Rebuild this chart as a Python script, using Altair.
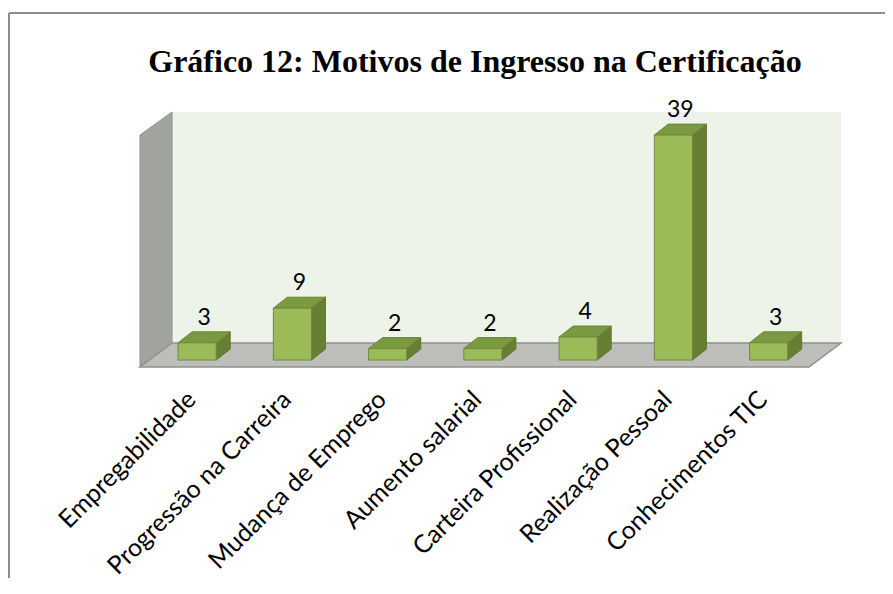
import altair as alt
import pandas as pd

# ---- data ----
categories = ["Empregabilidade", "Progressão na Carreira", "Mudança de Emprego",
              "Aumento salarial", "Carteira Profissional", "Realização Pessoal",
              "Conhecimentos TIC"]
values = [3, 9, 2, 2, 4, 39, 3]
title_text = "Gráfico 12: Motivos de Ingresso na Certificação"

# ---- 3D geometry (in data units) ----
X_MIN, X_MAX = -0.6, 6.76
Y_MIN, Y_MAX = -1.2, 43.0
HALF_W = 0.2          # half bar width (category units)
BDX, BDY = 0.147, 1.9  # bar depth offsets
FDX, FDY = 0.336, 4.16  # floor depth offsets

FONT = "Lato"

xs = alt.Scale(domain=[X_MIN, X_MAX], nice=False, zero=False)
ys = alt.Scale(domain=[Y_MIN, Y_MAX], nice=False, zero=False)

floor_back = Y_MIN + FDY

# back wall
wall_df = pd.DataFrame({"x": [X_MIN + FDX], "x2": [X_MAX], "y": [floor_back], "y2": [Y_MAX]})
back_wall = alt.Chart(wall_df).mark_rect(color="#EEF3E9").encode(
    x=alt.X("x:Q", scale=xs, axis=None), x2="x2:Q",
    y=alt.Y("y:Q", scale=ys, axis=None), y2="y2:Q")

# left wall
lw_df = pd.DataFrame({"x": [X_MIN, X_MIN + FDX], "y": [Y_MIN, floor_back],
                      "y2": [Y_MAX - 4.0, Y_MAX]})
left_wall = alt.Chart(lw_df).mark_area(orient="vertical", color="#A1A39F",
                                       stroke="#8F918D", strokeWidth=1).encode(
    x=alt.X("x:Q", scale=xs, axis=None),
    y=alt.Y("y:Q", scale=ys, axis=None), y2="y2:Q")

# floor
fl_df = pd.DataFrame({
    "x": [X_MIN, X_MIN + FDX, X_MAX - FDX, X_MAX],
    "y": [Y_MIN, Y_MIN, Y_MIN, floor_back],
    "y2": [Y_MIN, floor_back, floor_back, floor_back]})
floor = alt.Chart(fl_df).mark_area(orient="vertical", color="#BDBEBA",
                                   stroke="#8F918D", strokeWidth=1.5).encode(
    x=alt.X("x:Q", scale=xs, axis=None),
    y=alt.Y("y:Q", scale=ys, axis=None), y2="y2:Q")

# bars
rows_front, rows_side, rows_top = [], [], []
for i, (c, v) in enumerate(zip(categories, values)):
    rows_front.append({"cat": c, "x": i - HALF_W, "x2": i + HALF_W, "y": 0, "y2": v})
    rows_side += [
        {"cat": c, "x": i + HALF_W, "y": 0, "y2": v},
        {"cat": c, "x": i + HALF_W + BDX, "y": BDY, "y2": v + BDY},
    ]
    rows_top += [
        {"cat": c, "x": i - HALF_W, "y": v, "y2": v},
        {"cat": c, "x": i - HALF_W + BDX, "y": v, "y2": v + BDY},
        {"cat": c, "x": i + HALF_W, "y": v, "y2": v + BDY},
        {"cat": c, "x": i + HALF_W + BDX, "y": v + BDY, "y2": v + BDY},
    ]

front = alt.Chart(pd.DataFrame(rows_front)).mark_rect(
    color="#9BBB59", stroke="#71893F", strokeWidth=1).encode(
    x=alt.X("x:Q", scale=xs, axis=None), x2="x2:Q",
    y=alt.Y("y:Q", scale=ys, axis=None), y2="y2:Q")

side = alt.Chart(pd.DataFrame(rows_side)).mark_area(
    orient="vertical", color="#667F33", stroke="#5E762F", strokeWidth=1).encode(
    x=alt.X("x:Q", scale=xs, axis=None),
    y=alt.Y("y:Q", scale=ys, axis=None), y2="y2:Q",
    detail="cat:N")

top = alt.Chart(pd.DataFrame(rows_top)).mark_area(
    orient="vertical", color="#7A9A41", stroke="#6A8636", strokeWidth=1).encode(
    x=alt.X("x:Q", scale=xs, axis=None),
    y=alt.Y("y:Q", scale=ys, axis=None), y2="y2:Q",
    detail="cat:N")

# value labels
val_df = pd.DataFrame({"x": [i + BDX / 2 for i in range(len(values))],
                       "y": [v + BDY for v in values],
                       "label": [str(v) for v in values]})
val_text = alt.Chart(val_df).mark_text(
    font=FONT, fontSize=23, color="#000000", baseline="alphabetic",
    align="center", yOffset=-7).encode(
    x=alt.X("x:Q", scale=xs, axis=None),
    y=alt.Y("y:Q", scale=ys, axis=None),
    text="label:N")

# category labels
cat_df = pd.DataFrame({"x": list(range(len(categories))),
                       "y": [Y_MIN] * len(categories),
                       "label": categories})
cat_text = alt.Chart(cat_df).mark_text(
    font=FONT, fontSize=25, color="#000000", angle=315, align="right",
    baseline="top", xOffset=-14, yOffset=20).encode(
    x=alt.X("x:Q", scale=xs, axis=None),
    y=alt.Y("y:Q", scale=ys, axis=None),
    text="label:N")

# title
t_df = pd.DataFrame({"t": [title_text]})
title = alt.Chart(t_df).mark_text(
    font="Liberation Serif", fontSize=32, fontWeight="bold", color="#000000",
    align="center", baseline="middle").encode(
    x=alt.value(335), y=alt.value(-50), text="t:N")

# outer frame lines
b_df = pd.DataFrame({"a": [0]})
top_line = alt.Chart(b_df).mark_rule(color="#8C8C8C", strokeWidth=2).encode(
    x=alt.value(-131), x2=alt.value(745), y=alt.value(-99))
left_line = alt.Chart(b_df).mark_rule(color="#8C8C8C", strokeWidth=2).encode(
    x=alt.value(-131), y=alt.value(-99), y2=alt.value(466))

chart = alt.layer(back_wall, left_wall, floor, side, top, front, val_text,
                  cat_text, title, top_line, left_line).properties(
    width=701, height=255,
    autosize=alt.AutoSizeParams(type="none"),
    padding={"left": 132, "top": 104, "right": 44, "bottom": 211},
    background="#FFFFFF",
).configure_view(stroke=None)

chart.save("out.html", embed_options={"renderer": "svg", "actions": False})
